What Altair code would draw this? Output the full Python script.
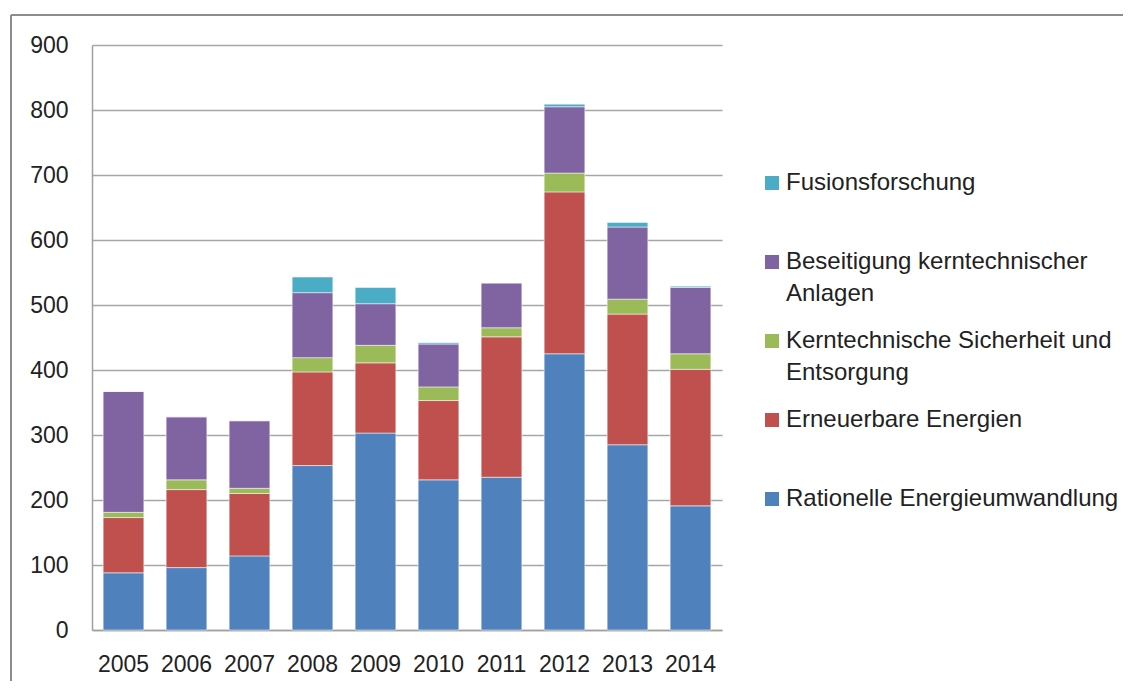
import altair as alt
import pandas as pd

years = ["2005", "2006", "2007", "2008", "2009", "2010", "2011", "2012", "2013", "2014"]
series = [
    "Rationelle Energieumwandlung",
    "Erneuerbare Energien",
    "Kerntechnische Sicherheit und Entsorgung",
    "Beseitigung kerntechnischer Anlagen",
    "Fusionsforschung",
]
colors = ["#4F81BD", "#C0504D", "#9BBB59", "#8064A2", "#4BACC6"]

rationelle = [88, 96, 114, 253, 303, 231, 235, 425, 285, 191]
erneuerbare = [85, 120, 96, 144, 108, 122, 216, 249, 201, 210]
sicherheit = [8, 15, 8, 22, 27, 21, 14, 29, 23, 24]
beseitigung = [186, 97, 104, 100, 64, 66, 69, 102, 111, 102]
fusion = [0, 0, 0, 24, 25, 2, 0, 4, 7, 2]

values = [rationelle, erneuerbare, sicherheit, beseitigung, fusion]
rows = []
for si, (name, vals) in enumerate(zip(series, values)):
    for y, v in zip(years, vals):
        rows.append({"Jahr": y, "Bereich": name, "Wert": v, "idx": si})
df = pd.DataFrame(rows)

FONT = "Liberation Sans"

label_expr = (
    "datum.label == 'Beseitigung kerntechnischer Anlagen' ? ['Beseitigung kerntechnischer', 'Anlagen'] : "
    "datum.label == 'Kerntechnische Sicherheit und Entsorgung' ? ['Kerntechnische Sicherheit und', 'Entsorgung'] : "
    "[datum.label, '']"
)

bars = alt.Chart(df).mark_bar(stroke="white", strokeWidth=1, strokeOpacity=0.5).encode(
    x=alt.X(
        "Jahr:N",
        sort=years,
        title=None,
        scale=alt.Scale(paddingInner=0.354, paddingOuter=0.177),
        axis=alt.Axis(labelAngle=0, ticks=False, labelPadding=23, domainColor="#A0A0A0",
                      domainWidth=1.5, grid=False),
    ),
    y=alt.Y(
        "Wert:Q",
        stack="zero",
        title=None,
        scale=alt.Scale(domain=[0, 900], nice=False),
        axis=alt.Axis(values=list(range(0, 1000, 100)), ticks=False, labelPadding=24,
                      gridColor="#A6A6A6", gridWidth=1.5, domainColor="#A0A0A0", domainWidth=1.5),
    ),
    color=alt.Color(
        "Bereich:N",
        scale=alt.Scale(domain=series[::-1], range=colors[::-1]),
        legend=alt.Legend(
            title=None,
            orient="none",
            legendX=668,
            legendY=126,
            symbolType="square",
            symbolSize=196,
            symbolStrokeWidth=0,
            labelOffset=2,
            labelFontSize=24,
            labelFont=FONT,
            labelColor="#222222",
            labelLimit=500,
            labelExpr=label_expr,
            rowPadding=23,
            padding=0,
        ),
    ),
    order=alt.Order("idx:Q", sort="ascending"),
)

frame_data = alt.Data(values=[{"a": 1}])
frame_left = alt.Chart(frame_data).mark_rule(color="#8C8C8C", strokeWidth=2).encode(
    x=alt.value(-81), y=alt.value(-30), y2=alt.value(700)
)
frame_top = alt.Chart(frame_data).mark_rule(color="#8C8C8C", strokeWidth=2).encode(
    x=alt.value(-81), x2=alt.value(1200), y=alt.value(-30)
)

chart = alt.layer(bars, frame_left, frame_top).properties(
    width=630,
    height=585,
    autosize=alt.AutoSizeParams(type="none"),
    padding={"left": 84, "top": 37, "right": 401, "bottom": 51},
).configure(
    style={"guide-label": {"lineHeight": 32}},
    view=alt.ViewConfig(stroke="transparent"),
    axis=alt.AxisConfig(labelFont=FONT, labelFontSize=23, labelColor="#222222"),
)

chart.save("out.html", embed_options={"renderer": "svg", "actions": False})
